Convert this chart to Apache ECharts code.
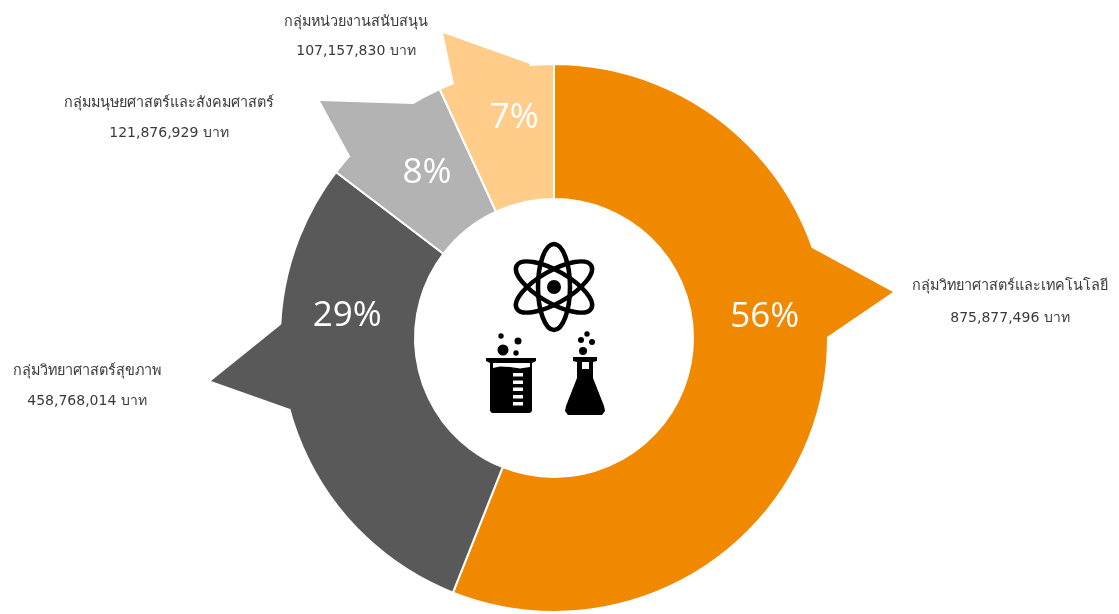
<!DOCTYPE html>
<html>
<head>
<meta charset="utf-8">
<title>chart</title>
<script src="https://cdn.jsdelivr.net/npm/echarts@6/dist/echarts.min.js"></script>
<style>
    html, body { margin: 0; padding: 0; background: #fff; }
    #main { width: 1119px; height: 614px; }
</style>
</head>
<body>
<div id="main"></div>
<script>
    var categories = ['กลุ่มวิทยาศาสตร์และเทคโนโลยี', 'กลุ่มวิทยาศาสตร์สุขภาพ', 'กลุ่มมนุษยศาสตร์และสังคมศาสตร์', 'กลุ่มหน่วยงานสนับสนุน'];
    var budget = [875877496, 458768014, 121876929, 107157830];
    var unit = 'บาท';

    var colors = ['#F08800', '#595959', '#B3B3B3', '#FFCC8A'];
    var textColor = '#3a3a3a';
    var labelFont = '"DejaVu Sans", "Noto Sans", sans-serif';

    // where the text sits: [center x, y of name, y of amount]
    var textPos = [[1010, 286, 318], [87, 371, 401], [169, 103, 133], [356, 22, 51]];
    // percent labels are not on the ring middle in the original
    var percentShift = [[5, -60], [-5, -78], [4, -1], [5, -15]];
    // callout spikes sticking out of each slice
    var spikes = [
        [[812, 248], [893, 292], [827, 337], [815, 320], [805, 270]],
        [[283, 323], [211, 381], [290, 409], [300, 380], [295, 340]],
        [[350, 156], [320, 101], [413, 104], [420, 110], [360, 155]],
        [[454, 84], [443, 33], [530, 64], [528, 70], [490, 82]]
    ];

    var graphics = [];

    spikes.forEach(function (pts, i) {
        graphics.push({ type: 'polygon', z: 6, silent: true, shape: { points: pts }, style: { fill: colors[i] } });
    });

    categories.forEach(function (name, i) {
        var p = textPos[i];
        graphics.push({
            type: 'text', x: p[0], y: p[1], z: 7,
            style: { text: name, fill: textColor, font: '14.4px ' + labelFont, align: 'center', verticalAlign: 'middle' }
        });
        graphics.push({
            type: 'text', x: p[0], y: p[2], z: 7,
            style: { text: budget[i].toLocaleString('en-US') + ' ' + unit, fill: textColor, font: '14px ' + labelFont, align: 'center', verticalAlign: 'middle' }
        });
    });

    // atom icon
    [0, Math.PI / 3, -Math.PI / 3].forEach(function (r) {
        graphics.push({
            type: 'ellipse', x: 554, y: 287, rotation: r, z: 7,
            shape: { cx: 0, cy: 0, rx: 16, ry: 43 },
            style: { fill: 'transparent', stroke: '#000', lineWidth: 4.5 }
        });
    });
    function dot(x, y, r) {
        graphics.push({ type: 'circle', z: 7, shape: { cx: x, cy: y, r: r }, style: { fill: '#000' } });
    }
    function poly(pts, fill, z) {
        graphics.push({ type: 'polygon', z: z, shape: { points: pts }, style: { fill: fill } });
    }
    dot(554, 287, 7);

    // beaker icon
    poly([[486, 358], [536, 358], [536, 361], [532, 363], [532, 411], [530, 413], [492, 413], [490, 411], [490, 363], [486, 361]], '#000', 7);
    poly([[493, 363], [530, 363], [530, 367], [520, 368.5], [510, 367], [500, 366.5], [493, 368]], '#fff', 8);
    [373, 380.5, 387.5, 395, 402].forEach(function (y) {
        graphics.push({ type: 'rect', z: 8, shape: { x: 513, y: y, width: 10, height: 3.5 }, style: { fill: '#fff' } });
    });
    dot(503, 350, 5.5); dot(518, 341, 3.5); dot(501, 336, 2.7); dot(516, 353, 2.7);

    // flask icon
    poly([[573, 357], [597, 357], [597, 361], [593, 362], [593, 378], [604, 406], [605, 411], [602, 415], [568, 415], [565, 411], [566, 406], [577, 378], [577, 362], [573, 361]], '#000', 7);
    graphics.push({ type: 'rect', z: 8, shape: { x: 582, y: 362, width: 7, height: 7 }, style: { fill: '#fff' } });
    dot(583, 351, 4); dot(581, 340, 3); dot(592, 342, 3); dot(587, 334, 2.7);

    var pieData = categories.map(function (name, i) {
        return { name: name, value: budget[i], itemStyle: { color: colors[i] } };
    });

    var chart = echarts.init(document.getElementById('main'), null, { renderer: 'canvas' });
    chart.setOption({
        animation: false,
        graphic: graphics,
        series: [
            {
                type: 'pie',
                z: 5,
                center: [554, 338],
                radius: [139, 274],
                startAngle: 90,
                clockwise: true,
                silent: true,
                percentPrecision: 0,
                data: pieData,
                itemStyle: { borderColor: '#fff', borderWidth: 2 },
                label: {
                    show: true,
                    position: 'inside',
                    formatter: '{d}%',
                    color: '#fff',
                    fontFamily: '"Open Sans", sans-serif',
                    fontSize: 35
                },
                labelLine: { show: false },
                labelLayout: function (params) {
                    var s = percentShift[params.dataIndex];
                    return { dx: s[0], dy: s[1] };
                }
            }
        ]
    });
</script>
</body>
</html>
